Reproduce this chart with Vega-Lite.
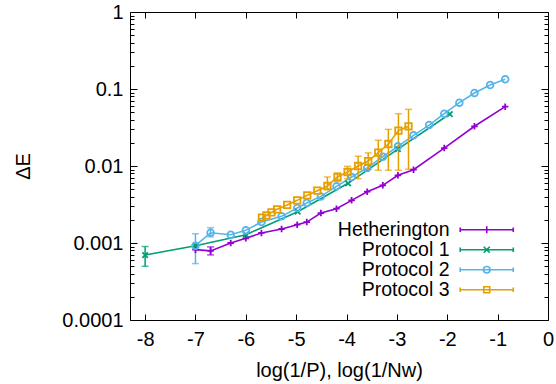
{
  "$schema": "https://vega.github.io/schema/vega-lite/v6.json",
  "width": 418,
  "height": 308,
  "autosize": {"type": "none"},
  "padding": {"left": 130, "top": 12, "right": 8, "bottom": 64},
  "config": {
    "font": "Liberation Sans",
    "view": {"stroke": null},
    "axis": {"labelFont": "Liberation Sans", "titleFont": "Liberation Sans", "labelFontSize": 20, "titleFontSize": 20, "titleFontWeight": "normal", "labelColor": "black", "titleColor": "black", "domainColor": "black", "tickColor": "black", "grid": false, "labelFlush": false, "labelOverlap": false},
    "legend": {"orient": "none", "legendX": 347, "legendY": 208, "title": null, "labelAlign": "right", "labelOffset": -47, "symbolSize": 196, "symbolStrokeWidth": 1.6, "symbolOpacity": 1, "symbolFillColor": "transparent", "labelFontSize": 19.5, "labelFont": "Liberation Sans", "labelColor": "black", "rowPadding": -2, "padding": 0, "labelLimit": 300}
  },
  "datasets": {
    "pts": [
      {"s": "Hetherington", "x": -7.0, "y": 0.00082},
      {"s": "Hetherington", "x": -6.7, "y": 0.00079},
      {"s": "Hetherington", "x": -6.3, "y": 0.0010},
      {"s": "Hetherington", "x": -6.0, "y": 0.00115},
      {"s": "Hetherington", "x": -5.69, "y": 0.00135},
      {"s": "Hetherington", "x": -5.29, "y": 0.00152},
      {"s": "Hetherington", "x": -4.98, "y": 0.00173},
      {"s": "Hetherington", "x": -4.79, "y": 0.00187},
      {"s": "Hetherington", "x": -4.51, "y": 0.00245},
      {"s": "Hetherington", "x": -4.2, "y": 0.00279},
      {"s": "Hetherington", "x": -3.9, "y": 0.00358},
      {"s": "Hetherington", "x": -3.59, "y": 0.00464},
      {"s": "Hetherington", "x": -3.28, "y": 0.00561},
      {"s": "Hetherington", "x": -2.98, "y": 0.00757},
      {"s": "Hetherington", "x": -2.67, "y": 0.00896},
      {"s": "Hetherington", "x": -2.06, "y": 0.0171},
      {"s": "Hetherington", "x": -1.46, "y": 0.0328},
      {"s": "Hetherington", "x": -0.85, "y": 0.059},
      {"s": "Protocol 1", "x": -8.0, "y": 0.000698},
      {"s": "Protocol 1", "x": -7.0, "y": 0.000923},
      {"s": "Protocol 1", "x": -6.0, "y": 0.00128},
      {"s": "Protocol 1", "x": -4.97, "y": 0.00255},
      {"s": "Protocol 1", "x": -3.97, "y": 0.00596},
      {"s": "Protocol 1", "x": -2.98, "y": 0.0166},
      {"s": "Protocol 1", "x": -1.95, "y": 0.0473},
      {"s": "Protocol 2", "x": -7.0, "y": 0.000923},
      {"s": "Protocol 2", "x": -6.7, "y": 0.00136},
      {"s": "Protocol 2", "x": -6.3, "y": 0.00128},
      {"s": "Protocol 2", "x": -6.0, "y": 0.00146},
      {"s": "Protocol 2", "x": -5.69, "y": 0.00187},
      {"s": "Protocol 2", "x": -5.29, "y": 0.00222},
      {"s": "Protocol 2", "x": -4.98, "y": 0.00285},
      {"s": "Protocol 2", "x": -4.79, "y": 0.0033},
      {"s": "Protocol 2", "x": -4.51, "y": 0.00403},
      {"s": "Protocol 2", "x": -4.2, "y": 0.00544},
      {"s": "Protocol 2", "x": -3.9, "y": 0.00719},
      {"s": "Protocol 2", "x": -3.59, "y": 0.00942},
      {"s": "Protocol 2", "x": -3.28, "y": 0.0132},
      {"s": "Protocol 2", "x": -2.98, "y": 0.018},
      {"s": "Protocol 2", "x": -2.67, "y": 0.025},
      {"s": "Protocol 2", "x": -2.36, "y": 0.034},
      {"s": "Protocol 2", "x": -2.06, "y": 0.0478},
      {"s": "Protocol 2", "x": -1.76, "y": 0.0665},
      {"s": "Protocol 2", "x": -1.46, "y": 0.0887},
      {"s": "Protocol 2", "x": -1.15, "y": 0.1127},
      {"s": "Protocol 2", "x": -0.85, "y": 0.1336},
      {"s": "Protocol 3", "x": -5.68, "y": 0.00213},
      {"s": "Protocol 3", "x": -5.59, "y": 0.00229},
      {"s": "Protocol 3", "x": -5.49, "y": 0.0025},
      {"s": "Protocol 3", "x": -5.38, "y": 0.00274},
      {"s": "Protocol 3", "x": -5.18, "y": 0.00312},
      {"s": "Protocol 3", "x": -4.98, "y": 0.00358},
      {"s": "Protocol 3", "x": -4.78, "y": 0.00416},
      {"s": "Protocol 3", "x": -4.58, "y": 0.00478},
      {"s": "Protocol 3", "x": -4.38, "y": 0.0055},
      {"s": "Protocol 3", "x": -4.18, "y": 0.0072},
      {"s": "Protocol 3", "x": -3.98, "y": 0.00836},
      {"s": "Protocol 3", "x": -3.77, "y": 0.01},
      {"s": "Protocol 3", "x": -3.57, "y": 0.0116},
      {"s": "Protocol 3", "x": -3.37, "y": 0.0149},
      {"s": "Protocol 3", "x": -3.17, "y": 0.0193},
      {"s": "Protocol 3", "x": -2.97, "y": 0.0288},
      {"s": "Protocol 3", "x": -2.77, "y": 0.0328}
    ],
    "err": [
      {"s": "Hetherington", "x": -6.7, "lo": 0.00070, "hi": 0.00089},
      {"s": "Protocol 1", "x": -8.0, "lo": 0.000498, "hi": 0.0009},
      {"s": "Protocol 2", "x": -7.0, "lo": 0.00054, "hi": 0.00132},
      {"s": "Protocol 2", "x": -6.7, "lo": 0.0012, "hi": 0.00158},
      {"s": "Protocol 3", "x": -4.38, "lo": 0.00493, "hi": 0.0072},
      {"s": "Protocol 3", "x": -4.18, "lo": 0.0063, "hi": 0.0081},
      {"s": "Protocol 3", "x": -3.98, "lo": 0.00685, "hi": 0.0099},
      {"s": "Protocol 3", "x": -3.77, "lo": 0.00685, "hi": 0.0134},
      {"s": "Protocol 3", "x": -3.57, "lo": 0.00906, "hi": 0.0148},
      {"s": "Protocol 3", "x": -3.37, "lo": 0.0088, "hi": 0.0216},
      {"s": "Protocol 3", "x": -3.17, "lo": 0.0088, "hi": 0.0299},
      {"s": "Protocol 3", "x": -2.97, "lo": 0.0088, "hi": 0.0478},
      {"s": "Protocol 3", "x": -2.77, "lo": 0.00906, "hi": 0.0544}
    ]
  },
  "resolve": {"axis": {"x": "independent", "y": "independent"}},
  "layer": [
    {
      "data": {"name": "pts"},
      "mark": {"type": "point", "filled": false, "opacity": 0},
      "encoding": {
        "x": {"field": "x", "type": "quantitative", "scale": {"domain": [-8.3, 0], "nice": false, "zero": false},
          "axis": {"orient": "top", "values": [-8, -7, -6, -5, -4, -3, -2, -1, 0], "labels": false, "tickSize": -6, "title": null}},
        "y": {"field": "y", "type": "quantitative", "scale": {"type": "log", "domain": [0.0001, 1], "nice": false},
          "axis": {"orient": "right", "values": [0.0001, 0.0002, 0.0003, 0.0004, 0.0005, 0.0006, 0.0007, 0.0008, 0.0009, 0.001, 0.002, 0.003, 0.004, 0.005, 0.006, 0.007, 0.008, 0.009, 0.01, 0.02, 0.03, 0.04, 0.05, 0.06, 0.07, 0.08, 0.09, 0.1, 0.2, 0.3, 0.4, 0.5, 0.6, 0.7, 0.8, 0.9, 1],
            "labels": false, "title": null,
            "tickSize": {"condition": {"test": "indexof([1, 0.1, 0.01, 0.001, 0.0001], datum.value) >= 0", "value": -7}, "value": -4}}},
        "color": {"field": "s", "type": "nominal", "scale": {"domain": ["Hetherington", "Protocol 1", "Protocol 2", "Protocol 3"], "range": ["#9400d3", "#009e73", "#56b4e9", "#e69f00"]}},
        "shape": {"field": "s", "type": "nominal", "scale": {"domain": ["Hetherington", "Protocol 1", "Protocol 2", "Protocol 3"], "range": [
          "M-3.79,0L3.79,0M-3.79,-0.31L-3.79,0.31M3.79,-0.31L3.79,0.31M-0.5,0L0.5,0M0,-0.5L0,0.5",
          "M-3.79,0L3.79,0M-3.79,-0.31L-3.79,0.31M3.79,-0.31L3.79,0.31M-0.43,-0.43L0.43,0.43M-0.43,0.43L0.43,-0.43",
          "M-3.79,0L3.79,0M-3.79,-0.31L-3.79,0.31M3.79,-0.31L3.79,0.31M0.47,0A0.47,0.47 0 1,1 -0.47,0A0.47,0.47 0 1,1 0.47,0ZM0.46,0A0.46,0.46 0 1,0 -0.46,0A0.46,0.46 0 1,0 0.46,0Z",
          "M-3.79,0L3.79,0M-3.79,-0.31L-3.79,0.31M3.79,-0.31L3.79,0.31M-0.43,-0.43L0.43,-0.43L0.43,0.43L-0.43,0.43ZM-0.42,-0.42L-0.42,0.42L0.42,0.42L0.42,-0.42Z"
        ]}}
      }
    },
    {
      "data": {"name": "pts"},
      "mark": {"type": "line", "strokeWidth": 1.6},
      "encoding": {
        "x": {"field": "x", "type": "quantitative",
          "axis": {"orient": "bottom", "values": [-8, -7, -6, -5, -4, -3, -2, -1, 0], "labelExpr": "datum.value + ''", "tickSize": -6, "labelPadding": 15, "title": "log(1/P), log(1/Nw)", "titlePadding": 11}},
        "y": {"field": "y", "type": "quantitative",
          "axis": {"orient": "left", "values": [0.0001, 0.0002, 0.0003, 0.0004, 0.0005, 0.0006, 0.0007, 0.0008, 0.0009, 0.001, 0.002, 0.003, 0.004, 0.005, 0.006, 0.007, 0.008, 0.009, 0.01, 0.02, 0.03, 0.04, 0.05, 0.06, 0.07, 0.08, 0.09, 0.1, 0.2, 0.3, 0.4, 0.5, 0.6, 0.7, 0.8, 0.9, 1],
            "labelExpr": "indexof([1, 0.1, 0.01, 0.001, 0.0001], datum.value) >= 0 ? datum.value + '' : ''",
            "tickSize": {"condition": {"test": "indexof([1, 0.1, 0.01, 0.001, 0.0001], datum.value) >= 0", "value": -7}, "value": -4},
            "labelPadding": 14, "title": "ΔE", "titlePadding": 28}},
        "color": {"field": "s", "type": "nominal"}
      }
    },
    {
      "data": {"name": "err"},
      "mark": {"type": "rule", "strokeWidth": 1.5},
      "encoding": {
        "x": {"field": "x", "type": "quantitative", "axis": null},
        "y": {"field": "lo", "type": "quantitative", "axis": null},
        "y2": {"field": "hi"},
        "color": {"field": "s", "type": "nominal"}
      }
    },
    {
      "data": {"name": "err"},
      "mark": {"type": "tick", "orient": "horizontal", "size": 7, "thickness": 1.5},
      "encoding": {
        "x": {"field": "x", "type": "quantitative", "axis": null},
        "y": {"field": "lo", "type": "quantitative", "axis": null},
        "color": {"field": "s", "type": "nominal"}
      }
    },
    {
      "data": {"name": "err"},
      "mark": {"type": "tick", "orient": "horizontal", "size": 7, "thickness": 1.5},
      "encoding": {
        "x": {"field": "x", "type": "quantitative", "axis": null},
        "y": {"field": "hi", "type": "quantitative", "axis": null},
        "color": {"field": "s", "type": "nominal"}
      }
    },
    {
      "data": {"name": "pts"},
      "transform": [{"filter": "datum.s == 'Hetherington'"}],
      "mark": {"type": "point", "shape": "M-1,0L1,0M0,-1L0,1", "size": 42, "filled": false, "strokeWidth": 1.8, "color": "#9400d3", "opacity": 1},
      "encoding": {
        "x": {"field": "x", "type": "quantitative", "axis": null},
        "y": {"field": "y", "type": "quantitative", "axis": null}
      }
    },
    {
      "data": {"name": "pts"},
      "transform": [{"filter": "datum.s == 'Protocol 1'"}],
      "mark": {"type": "point", "shape": "M-1,-1L1,1M-1,1L1,-1", "size": 30, "filled": false, "strokeWidth": 1.8, "color": "#009e73", "opacity": 1},
      "encoding": {
        "x": {"field": "x", "type": "quantitative", "axis": null},
        "y": {"field": "y", "type": "quantitative", "axis": null}
      }
    },
    {
      "data": {"name": "pts"},
      "transform": [{"filter": "datum.s == 'Protocol 2'"}],
      "mark": {"type": "point", "shape": "circle", "size": 45, "filled": false, "strokeWidth": 1.8, "color": "#56b4e9", "opacity": 1},
      "encoding": {
        "x": {"field": "x", "type": "quantitative", "axis": null},
        "y": {"field": "y", "type": "quantitative", "axis": null}
      }
    },
    {
      "data": {"name": "pts"},
      "transform": [{"filter": "datum.s == 'Protocol 3'"}],
      "mark": {"type": "point", "shape": "square", "size": 42, "filled": false, "strokeWidth": 1.8, "color": "#e69f00", "opacity": 1},
      "encoding": {
        "x": {"field": "x", "type": "quantitative", "axis": null},
        "y": {"field": "y", "type": "quantitative", "axis": null}
      }
    }
  ]
}
